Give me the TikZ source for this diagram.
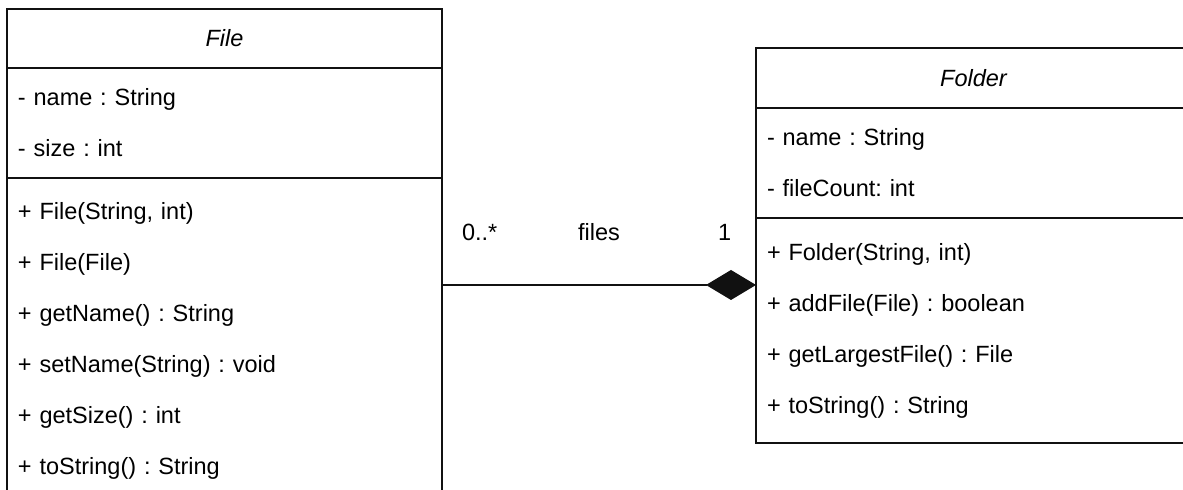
\documentclass[tikz,border=0pt]{standalone}
\usepackage{fontspec}
\setmainfont{Liberation Sans}
\usepackage{tikz}
\usetikzlibrary{positioning, arrows.meta}
\definecolor{uml_line}{HTML}{111111}
\frenchspacing

\begin{document}
\begin{tikzpicture}[>=stealth, every node/.style={font=\fontsize{11.75}{25.5}\selectfont},
  classhead/.style={draw=uml_line, line width=0.8pt, outer sep=0pt, minimum width=217.5pt, font=\fontsize{11.75}{14}\selectfont\itshape},
  classpart/.style={draw=uml_line, line width=0.8pt, outer sep=0pt, text width=206.5pt, inner xsep=5.5pt, align=left}]

  \useasboundingbox (0,0) rectangle (591.5pt,-245pt);
  \clip (0,0) rectangle (591.5pt,-245pt);

  % left class, its bottom runs off the page
  \node[classhead, minimum height=29.5pt, anchor=north west] (fileHead) at (3.5pt,-4.5pt) {File};
  \node[classpart, minimum height=55pt, below=0pt of fileHead] (fileAttr)
  {- name : String\\- size : int};
  \node[classpart, minimum height=162.5pt, below=0pt of fileAttr] (fileMeth)
  {+ File(String, int)\\+ File(File)\\+ getName() : String\\+ setName(String) : void\\+ getSize() : int\\+ toString() : String};

  % right class, its right side runs off the page
  \node[classhead, minimum height=30pt, anchor=north west] (folderHead) at (378pt,-24pt) {Folder};
  \node[classpart, minimum height=55pt, below=0pt of folderHead] (folderAttr)
  {- name : String\\- fileCount: int};
  \node[classpart, minimum height=112.5pt, below=0pt of folderAttr] (folderMeth)
  {+ Folder(String, int)\\+ addFile(File) : boolean\\+ getLargestFile() : File\\+ toString() : String};

  % composition
  \coordinate (joint) at ([yshift=-33.5pt]folderMeth.north west);
  \draw[uml_line, line width=0.7pt, -{Diamond[length=25pt, width=15pt]}] (fileMeth.east |- joint) -- (joint)
  node[pos=0.12, yshift=26.5pt, black] (multMany) {0..*}
  node[midway, yshift=26.5pt, black] (roleName) {files}
  node[pos=0.9, yshift=26.5pt, black] (multOne) {1};

\end{tikzpicture}
\end{document}
